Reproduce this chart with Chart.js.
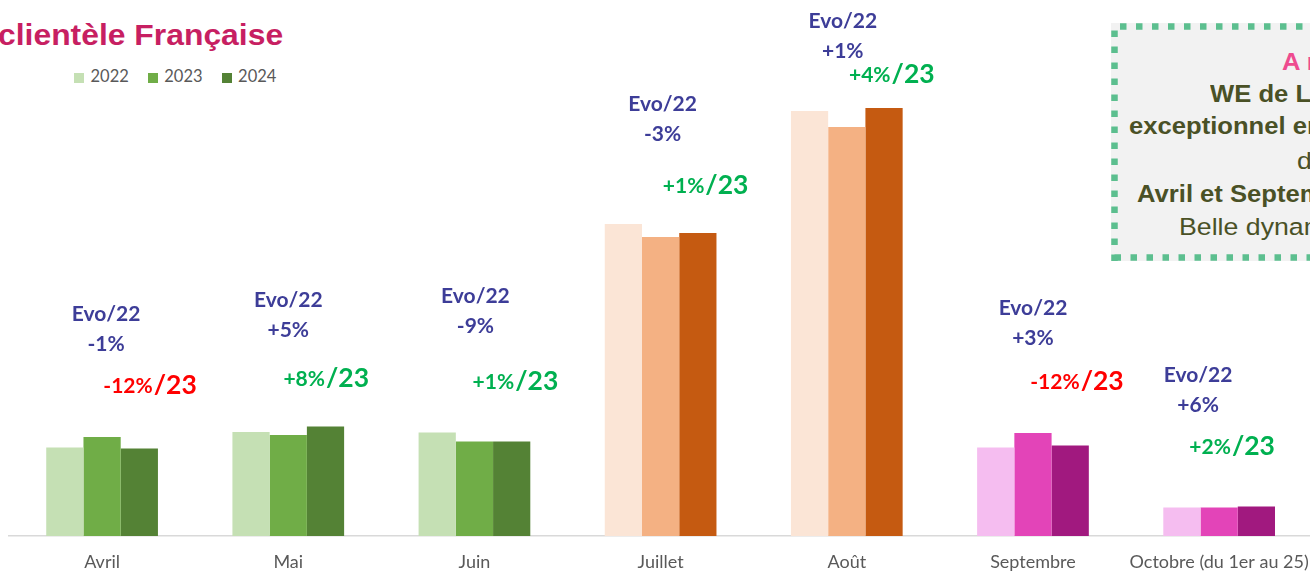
<!DOCTYPE html>
<html lang="fr">
<head>
<meta charset="utf-8">
<script src="https://cdn.jsdelivr.net/npm/chart.js@4.4.1/dist/chart.umd.min.js"></script>
<style>
    html, body { margin: 0; padding: 0; background: #fff; width: 1310px; height: 571px; overflow: hidden; }
    #wrap { position: absolute; left: 0; top: 0; width: 1324px; height: 571px; }
    .title { position: absolute; left: -2px; top: 17px; font: bold 29.5px "Liberation Sans", Arial, sans-serif; color: #c71f62;
             white-space: nowrap; transform: scaleX(1.08); transform-origin: left center; line-height: 36px; }
    #legend { position: absolute; left: 74px; top: 66px; height: 20px; font: 16.5px Lato, sans-serif; color: #595959; }
    #legend span.item { position: absolute; top: 0; white-space: nowrap; line-height: 20px; }
    #legend i { display: inline-block; width: 10px; height: 10px; margin-right: 6.5px; vertical-align: -0.5px; }
    #note { position: absolute; left: 1111px; top: 23px; width: 400px; height: 238px; background: #f2f2f2; }
    .nline { position: absolute; white-space: nowrap; font: bold 23.5px "Liberation Sans", Arial, sans-serif; color: #4a5126;
             transform: scaleX(1.09); transform-origin: left center; line-height: 30px; }
    .nline.reg { font-weight: normal; font-size: 24.5px; }
</style>
</head>
<body>
<div class="title">clientèle Française</div>
<div id="legend"></div>
<div id="note">
    <svg width="400" height="238" style="position:absolute;left:0;top:0">
        <path d="M3.5 238 L3.5 3.5 L400 3.5 M3.5 234.5 L400 234.5" fill="none" stroke="#5cbf8f" stroke-width="6.5" stroke-dasharray="6.5 9.5"/>
    </svg>
    <div class="nline" style="left:170.7px;top:24px;color:#ee4b8f">A retenir :</div>
    <div class="nline" style="left:99px;top:56px">WE de L'Ascension</div>
    <div class="nline" style="left:18px;top:88px">exceptionnel en mai</div>
    <div class="nline reg" style="left:185.7px;top:123px">des séjours</div>
    <div class="nline" style="left:26px;top:156px">Avril et Septembre en recul</div>
    <div class="nline reg" style="left:68px;top:189px">Belle dynamique</div>
</div>
<div id="wrap"><canvas id="chart"></canvas></div>
<script>
// mois et valeurs (échelle relative)
const months = ['Avril', 'Mai', 'Juin', 'Juillet', 'Août', 'Septembre', 'Octobre (du 1er au 25)'];
const years = ['2022', '2023', '2024'];
const v2022 = [88.5, 104, 103.5, 312, 425, 88.5, 28.5];
const v2023 = [99, 101, 94.5, 299, 409, 103, 28.5];
const v2024 = [87.5, 109.5, 94.5, 303, 428, 90.5, 29.5];
const evo22 = ['-1%', '+5%', '-9%', '-3%', '+1%', '+3%', '+6%'];
const evo23 = ['-12%', '+8%', '+1%', '+1%', '+4%', '-12%', '+2%'];

// couleurs par groupe de mois
const shades = {
    green: ['#c5e0b4', '#70ad47', '#548235'],
    orange: ['#fbe5d6', '#f4b183', '#c55a11'],
    pink: ['#f5bdf0', '#e344b8', '#a1197f']
};
const monthShade = ['green', 'green', 'green', 'orange', 'orange', 'pink', 'pink'];

// place des bulles de texte (decalage par rapport au centre du mois, y en px)
const noteLayout = [
    { dx: 4, y: 314, dx2: 48, y2: 385 },
    { dx: 0, y: 300, dx2: 38, y2: 378 },
    { dx: 1, y: 296, dx2: 41, y2: 381 },
    { dx: 2, y: 104, dx2: 45, y2: 185 },
    { dx: -4, y: 21, dx2: 45, y2: 74 },
    { dx: 0, y: 308, dx2: 44, y2: 381 },
    { dx: -21, y: 375, dx2: 13, y2: 446 }
];

// legende html
const legend = document.getElementById('legend');
years.forEach((y, k) => {
    const s = document.createElement('span');
    s.className = 'item';
    s.style.left = (k * 73.8) + 'px';
    s.innerHTML = '<i style="background:' + shades.green[k] + '"></i>' + y;
    legend.appendChild(s);
});

const evoLabels = {
    id: 'evoLabels',
    afterDatasetsDraw(chart) {
        const ctx = chart.ctx;
        const x = chart.scales.x;
        ctx.save();
        ctx.textBaseline = 'middle';
        for (let i = 0; i < months.length; i++) {
            const cx = x.getPixelForValue(i);
            const p = noteLayout[i];
            ctx.fillStyle = '#3d3d98';
            ctx.textAlign = 'center';
            ctx.font = 'bold 21px Lato';
            ctx.fillText('Evo/22', cx + p.dx, p.y);
            ctx.fillText(evo22[i], cx + p.dx, p.y + 30);

            // "+x%" plus "/23" en plus gros
            const col = evo23[i].startsWith('-') ? '#ff0000' : '#00b050';
            ctx.fillStyle = col;
            ctx.textAlign = 'left';
            ctx.font = 'bold 21px Lato';
            const w1 = ctx.measureText(evo23[i]).width;
            ctx.font = 'bold 26.5px Lato';
            const w2 = ctx.measureText('/23').width;
            const left = cx + p.dx2 - (w1 + w2 + 1) / 2;
            ctx.font = 'bold 21px Lato';
            ctx.fillText(evo23[i], left, p.y2 + 1);
            ctx.font = 'bold 26.5px Lato';
            ctx.fillText('/23', left + w1 + 1, p.y2);
        }
        ctx.restore();
    }
};

const ctx = document.getElementById('chart').getContext('2d');
const chart = new Chart(ctx, {
    type: 'bar',
    data: {
        labels: months,
        datasets: [v2022, v2023, v2024].map((vals, k) => ({
            label: years[k],
            data: vals,
            backgroundColor: monthShade.map(m => shades[m][k]),
            borderWidth: 0,
            categoryPercentage: 0.6,
            barPercentage: 1
        }))
    },
    options: {
        responsive: true,
        maintainAspectRatio: false,
        animation: false,
        layout: { padding: { left: 9, right: 3, top: 36, bottom: 0 } },
        plugins: {
            legend: { display: false },
            tooltip: { enabled: false }
        },
        scales: {
            x: {
                grid: { display: false, drawTicks: false },
                border: { display: true, color: '#d9d9d9', width: 1.5 },
                ticks: { color: '#595959', font: { family: 'Lato', size: 18 }, padding: 15, maxRotation: 0, autoSkip: false },
                afterFit(scale) { scale.height = 35; }
            },
            y: { display: false, min: 0, max: 500 }
        }
    },
    plugins: [evoLabels]
});
</script>
</body>
</html>
